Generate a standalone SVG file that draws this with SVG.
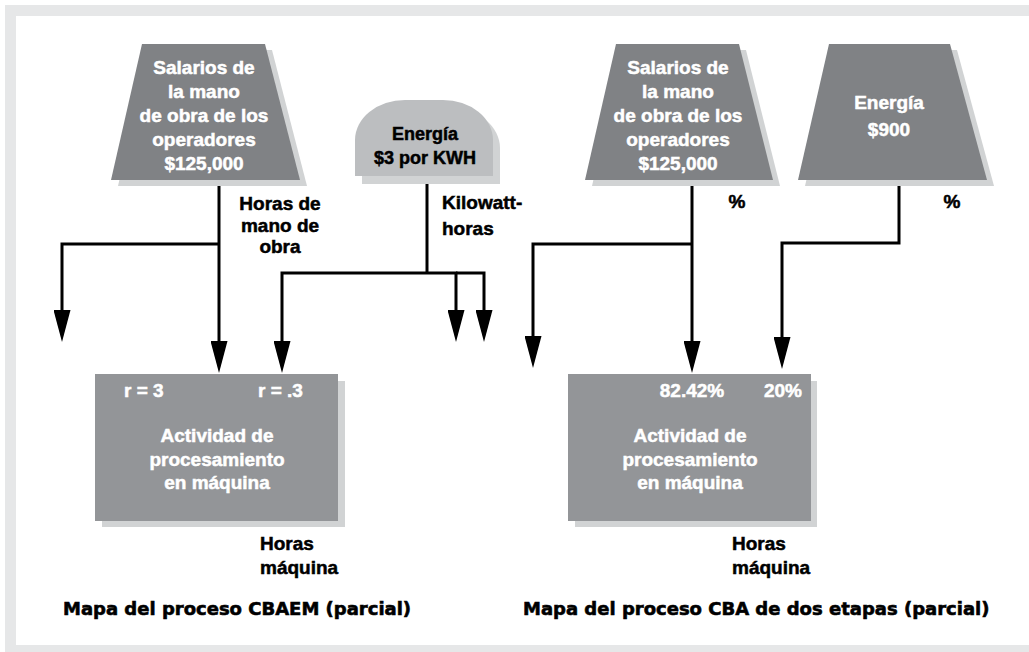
<svg xmlns="http://www.w3.org/2000/svg" width="1029" height="652" viewBox="0 0 1029 652">
<defs>
<style>
.t{font-family:"Liberation Sans",Arial,sans-serif;font-weight:bold;font-size:19px}
.w{fill:#ffffff;stroke:#ffffff;stroke-width:0.5}
.k{fill:#000000;stroke:#000000;stroke-width:0.5}
.m{text-anchor:middle}
.cap{font-family:"DejaVu Sans",sans-serif;font-weight:bold;font-size:18px;fill:#000;stroke:#000;stroke-width:0.6}
.src{fill:#808285}
.sh{fill:#d1d3d4}
.box{fill:#939598}
.dome{fill:#bcbec0}
.conn{fill:none;stroke:#000;stroke-width:3}
</style>
<marker id="ah" markerUnits="userSpaceOnUse" markerWidth="32" markerHeight="17" refX="24" refY="8.5" orient="auto">
<path d="M0,0 L32,8.5 L0,17 Z" fill="#000"/>
</marker>
</defs>
<rect x="5" y="5" width="1024" height="647" fill="#e6e7e8"/>
<rect x="16" y="16" width="1013" height="629" fill="#ffffff"/>

<g id="connectors">
<path class="conn" d="M219,180 V365" marker-end="url(#ah)"/>
<path class="conn" d="M219,244 H62 V334" marker-end="url(#ah)"/>
<path class="conn" d="M427,176 V273"/>
<path class="conn" d="M427,273 H282 V365" marker-end="url(#ah)"/>
<path class="conn" d="M427,273 H456 V334" marker-end="url(#ah)"/>
<path class="conn" d="M456,273 H484 V334" marker-end="url(#ah)"/>
<path class="conn" d="M692,180 V365" marker-end="url(#ah)"/>
<path class="conn" d="M692,244 H533 V360" marker-end="url(#ah)"/>
<path class="conn" d="M899,180 V243 H782 V361" marker-end="url(#ah)"/>
</g>

<g id="salarios1">
<polygon class="sh" points="149,50 272,50 307,186 118,186"/>
<polygon class="src" points="142,44 265,44 300,180 111,180"/>
<text class="t w m" x="204" y="74">Salarios de</text>
<text class="t w m" x="204" y="98">la mano</text>
<text class="t w m" x="204" y="122">de obra de los</text>
<text class="t w m" x="204" y="146">operadores</text>
<text class="t w m" x="204" y="170">$125,000</text>
</g>

<g id="energia1">
<path class="sh" d="M362,184 V148 A50,40 0 0 1 412,108 H450 A50,40 0 0 1 500,148 V184 Z"/>
<path class="dome" d="M355,176 V140 A50,40 0 0 1 405,100 H443 A50,40 0 0 1 493,140 V176 Z"/>
<text class="t k m" x="425" y="140" style="font-size:18px">Energía</text>
<text class="t k m" x="425" y="164" style="font-size:18px">$3 por KWH</text>
</g>

<g id="label-horas-mano">
<text class="t k m" x="280" y="210">Horas de</text>
<text class="t k m" x="280" y="232">mano de</text>
<text class="t k m" x="280" y="253">obra</text>
</g>

<g id="label-kwh">
<text class="t k" x="442" y="209">Kilowatt-</text>
<text class="t k" x="442" y="235">horas</text>
</g>

<g id="actividad1">
<rect class="sh" x="102" y="381" width="243" height="146"/>
<rect class="box" x="95" y="374" width="243" height="147"/>
<text class="t w" x="124" y="397">r = 3</text>
<text class="t w" x="258" y="397">r = .3</text>
<text class="t w m" x="217" y="442">Actividad de</text>
<text class="t w m" x="217" y="466">procesamiento</text>
<text class="t w m" x="217" y="489">en máquina</text>
</g>

<g id="label-horas-maquina1">
<text class="t k" x="260" y="550">Horas</text>
<text class="t k" x="260" y="574">máquina</text>
</g>

<text class="cap" x="63" y="615">Mapa del proceso CBAEM (parcial)</text>

<g id="salarios2">
<polygon class="sh" points="623,50 746,50 780,186 592,186"/>
<polygon class="src" points="616,44 739,44 773,180 585,180"/>
<text class="t w m" x="678" y="74">Salarios de</text>
<text class="t w m" x="678" y="98">la mano</text>
<text class="t w m" x="678" y="122">de obra de los</text>
<text class="t w m" x="678" y="146">operadores</text>
<text class="t w m" x="678" y="170">$125,000</text>
</g>

<g id="energia2">
<polygon class="sh" points="836,50 957,50 994,186 805,186"/>
<polygon class="src" points="829,44 950,44 987,180 798,180"/>
<text class="t w m" x="889" y="109">Energía</text>
<text class="t w m" x="889" y="136">$900</text>
</g>

<g id="label-pct">
<text class="t k m" x="737" y="208">%</text>
<text class="t k m" x="952" y="208">%</text>
</g>

<g id="actividad2">
<rect class="sh" x="575" y="381" width="242" height="146"/>
<rect class="box" x="568" y="374" width="243" height="147"/>
<text class="t w m" x="692" y="397">82.42%</text>
<text class="t w m" x="783" y="397">20%</text>
<text class="t w m" x="690" y="442">Actividad de</text>
<text class="t w m" x="690" y="466">procesamiento</text>
<text class="t w m" x="690" y="489">en máquina</text>
</g>

<g id="label-horas-maquina2">
<text class="t k" x="732" y="550">Horas</text>
<text class="t k" x="732" y="574">máquina</text>
</g>

<text class="cap" x="523" y="615">Mapa del proceso CBA de dos etapas (parcial)</text>
</svg>
